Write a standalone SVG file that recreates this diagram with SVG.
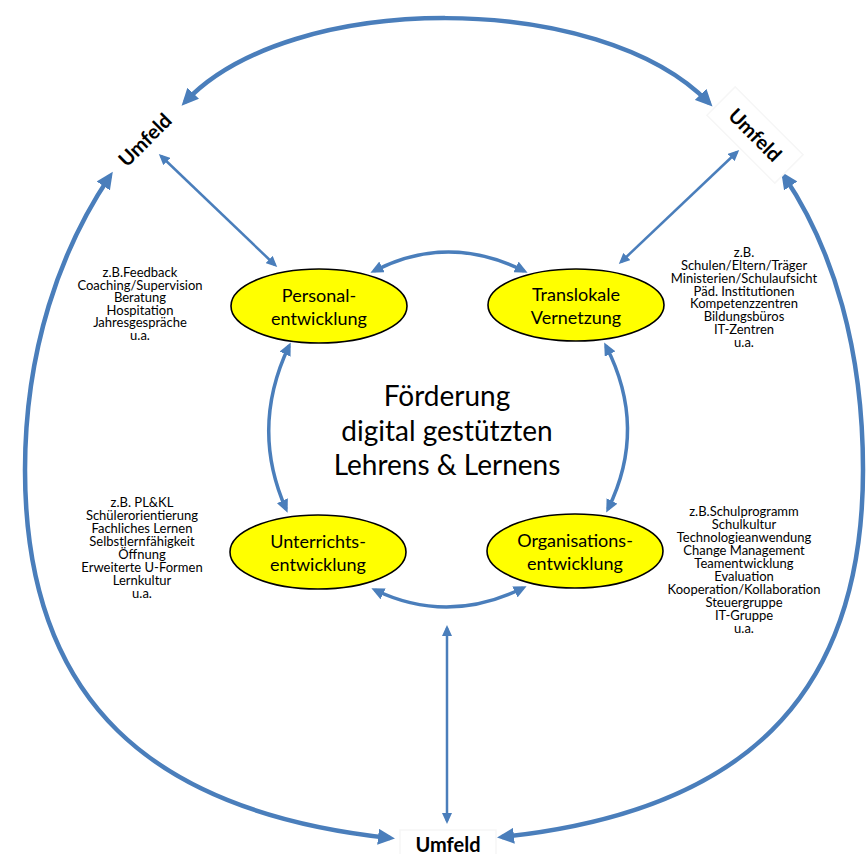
<svg xmlns="http://www.w3.org/2000/svg" width="868" height="854" viewBox="0 0 868 854">
  <style>
    .node ellipse { fill: #FFFF00; stroke: #000; stroke-width: 1.6; }
    .lbl { font-family: Lato, "Open Sans", sans-serif; font-size: 18px; fill: #000; text-anchor: middle; }
    .list { font-family: Lato, "Open Sans", sans-serif; font-size: 13px; fill: #000; text-anchor: middle; }
    .umfeld { font-family: Lato, "Open Sans", sans-serif; font-size: 20px; font-weight: bold; fill: #000; text-anchor: middle; }
    .title { font-family: Lato, "Open Sans", sans-serif; font-size: 28px; fill: #000; text-anchor: middle; }
    .c { fill: none; stroke: #4A7EBB; }
    .thick { stroke-width: 4.5; marker-start: url(#hL); marker-end: url(#hL); }
    .mid { stroke-width: 3.5; marker-start: url(#hM); marker-end: url(#hM); }
    .thin { stroke-width: 2.5; marker-start: url(#hS); marker-end: url(#hS); }
    .box { fill: #fff; stroke: #f6f6f6; stroke-width: 1.5; }
  </style>
  <defs>
    <marker id="hL" markerUnits="userSpaceOnUse" markerWidth="18" markerHeight="16" refX="12" refY="8" orient="auto-start-reverse">
      <path d="M0,0 L17,8 L0,16 z" fill="#4A7EBB"/>
    </marker>
    <marker id="hM" markerUnits="userSpaceOnUse" markerWidth="14" markerHeight="12" refX="9" refY="6" orient="auto-start-reverse">
      <path d="M0,0 L13,6 L0,12 z" fill="#4A7EBB"/>
    </marker>
    <marker id="hS" markerUnits="userSpaceOnUse" markerWidth="12" markerHeight="10" refX="8" refY="5" orient="auto-start-reverse">
      <path d="M0,0 L11,5 L0,10 z" fill="#4A7EBB"/>
    </marker>
  </defs>

  <rect width="868" height="854" fill="#fff"/>

  <!-- connectors -->
  <g id="connectors">
    <!-- outer ring -->
    <path class="c thick" d="M185,102 C290,-10 600,-10 709,103"/>
    <path class="c thick" d="M110,176 C60,250 25,350 25,470 C25,700 150,812 390,838"/>
    <path class="c thick" d="M784,176 C834,250 863,350 863,470 C863,700 740,812 502,837"/>
    <!-- links to the environment -->
    <path class="c thin" d="M161,156 L275,265"/>
    <path class="c thin" d="M737,152 L621,262"/>
    <path class="c thin" d="M447,628 L447,821"/>
    <!-- inner ring -->
    <path class="c mid" d="M374,271 Q448,233 524,271"/>
    <path class="c mid" d="M289,346 Q250,428 286,509"/>
    <path class="c mid" d="M606,346 Q648,428 608,509"/>
    <path class="c mid" d="M375,590 Q448,625 523,588"/>
  </g>

  <!-- environment labels -->
  <g id="umfeld-tl">
    <text class="umfeld" transform="translate(145,140) rotate(-45)" y="7">Umfeld</text>
  </g>
  <g id="umfeld-tr">
    <rect class="box" transform="translate(755,135) rotate(45)" x="-48" y="-20" width="96" height="40"/>
    <text class="umfeld" transform="translate(755,135) rotate(45)" y="7">Umfeld</text>
  </g>
  <g id="umfeld-b">
    <rect class="box" x="400" y="830" width="96" height="30"/>
    <text class="umfeld" x="448" y="852">Umfeld</text>
  </g>

  <!-- development areas -->
  <g id="personal" class="node">
    <ellipse cx="319" cy="306" rx="88" ry="37"/>
    <text class="lbl" x="319" y="302">Personal-</text>
    <text class="lbl" x="319" y="325">entwicklung</text>
  </g>
  <g id="translokal" class="node">
    <ellipse cx="576" cy="305" rx="88" ry="36"/>
    <text class="lbl" x="576" y="301">Translokale</text>
    <text class="lbl" x="576" y="324">Vernetzung</text>
  </g>
  <g id="unterricht" class="node">
    <ellipse cx="318" cy="552" rx="88" ry="37"/>
    <text class="lbl" x="318" y="548">Unterrichts-</text>
    <text class="lbl" x="318" y="571">entwicklung</text>
  </g>
  <g id="organisation" class="node">
    <ellipse cx="575" cy="551" rx="88" ry="37"/>
    <text class="lbl" x="575" y="547">Organisations-</text>
    <text class="lbl" x="575" y="570">entwicklung</text>
  </g>

  <!-- centre -->
  <g id="center">
    <text class="title" x="447" y="406">Förderung</text>
    <text class="title" x="447" y="441">digital gestützten</text>
    <text class="title" x="447" y="475">Lehrens &amp; Lernens</text>
  </g>

  <!-- examples -->
  <g id="list-personal" class="list">
    <text x="140" y="277">z.B.Feedback</text>
    <text x="140" y="289.6">Coaching/Supervision</text>
    <text x="140" y="302.2">Beratung</text>
    <text x="140" y="314.8">Hospitation</text>
    <text x="140" y="327.4">Jahresgespräche</text>
    <text x="140" y="340">u.a.</text>
  </g>
  <g id="list-translokal" class="list">
    <text x="744" y="257">z.B.</text>
    <text x="744" y="269.9">Schulen/Eltern/Träger</text>
    <text x="744" y="282.7">Ministerien/Schulaufsicht</text>
    <text x="744" y="295.6">Päd. Institutionen</text>
    <text x="744" y="308.4">Kompetenzzentren</text>
    <text x="744" y="321.3">Bildungsbüros</text>
    <text x="744" y="334.1">IT-Zentren</text>
    <text x="744" y="347">u.a.</text>
  </g>
  <g id="list-unterricht" class="list">
    <text x="142" y="507">z.B. PL&amp;KL</text>
    <text x="142" y="520">Schülerorientierung</text>
    <text x="142" y="533">Fachliches Lernen</text>
    <text x="142" y="546">Selbstlernfähigkeit</text>
    <text x="142" y="559">Öffnung</text>
    <text x="142" y="572">Erweiterte U-Formen</text>
    <text x="142" y="585">Lernkultur</text>
    <text x="142" y="598">u.a.</text>
  </g>
  <g id="list-organisation" class="list">
    <text x="744" y="516">z.B.Schulprogramm</text>
    <text x="744" y="529">Schulkultur</text>
    <text x="744" y="542">Technologieanwendung</text>
    <text x="744" y="555">Change Management</text>
    <text x="744" y="568">Teamentwicklung</text>
    <text x="744" y="581">Evaluation</text>
    <text x="744" y="594">Kooperation/Kollaboration</text>
    <text x="744" y="607">Steuergruppe</text>
    <text x="744" y="620">IT-Gruppe</text>
    <text x="744" y="633">u.a.</text>
  </g>
</svg>
